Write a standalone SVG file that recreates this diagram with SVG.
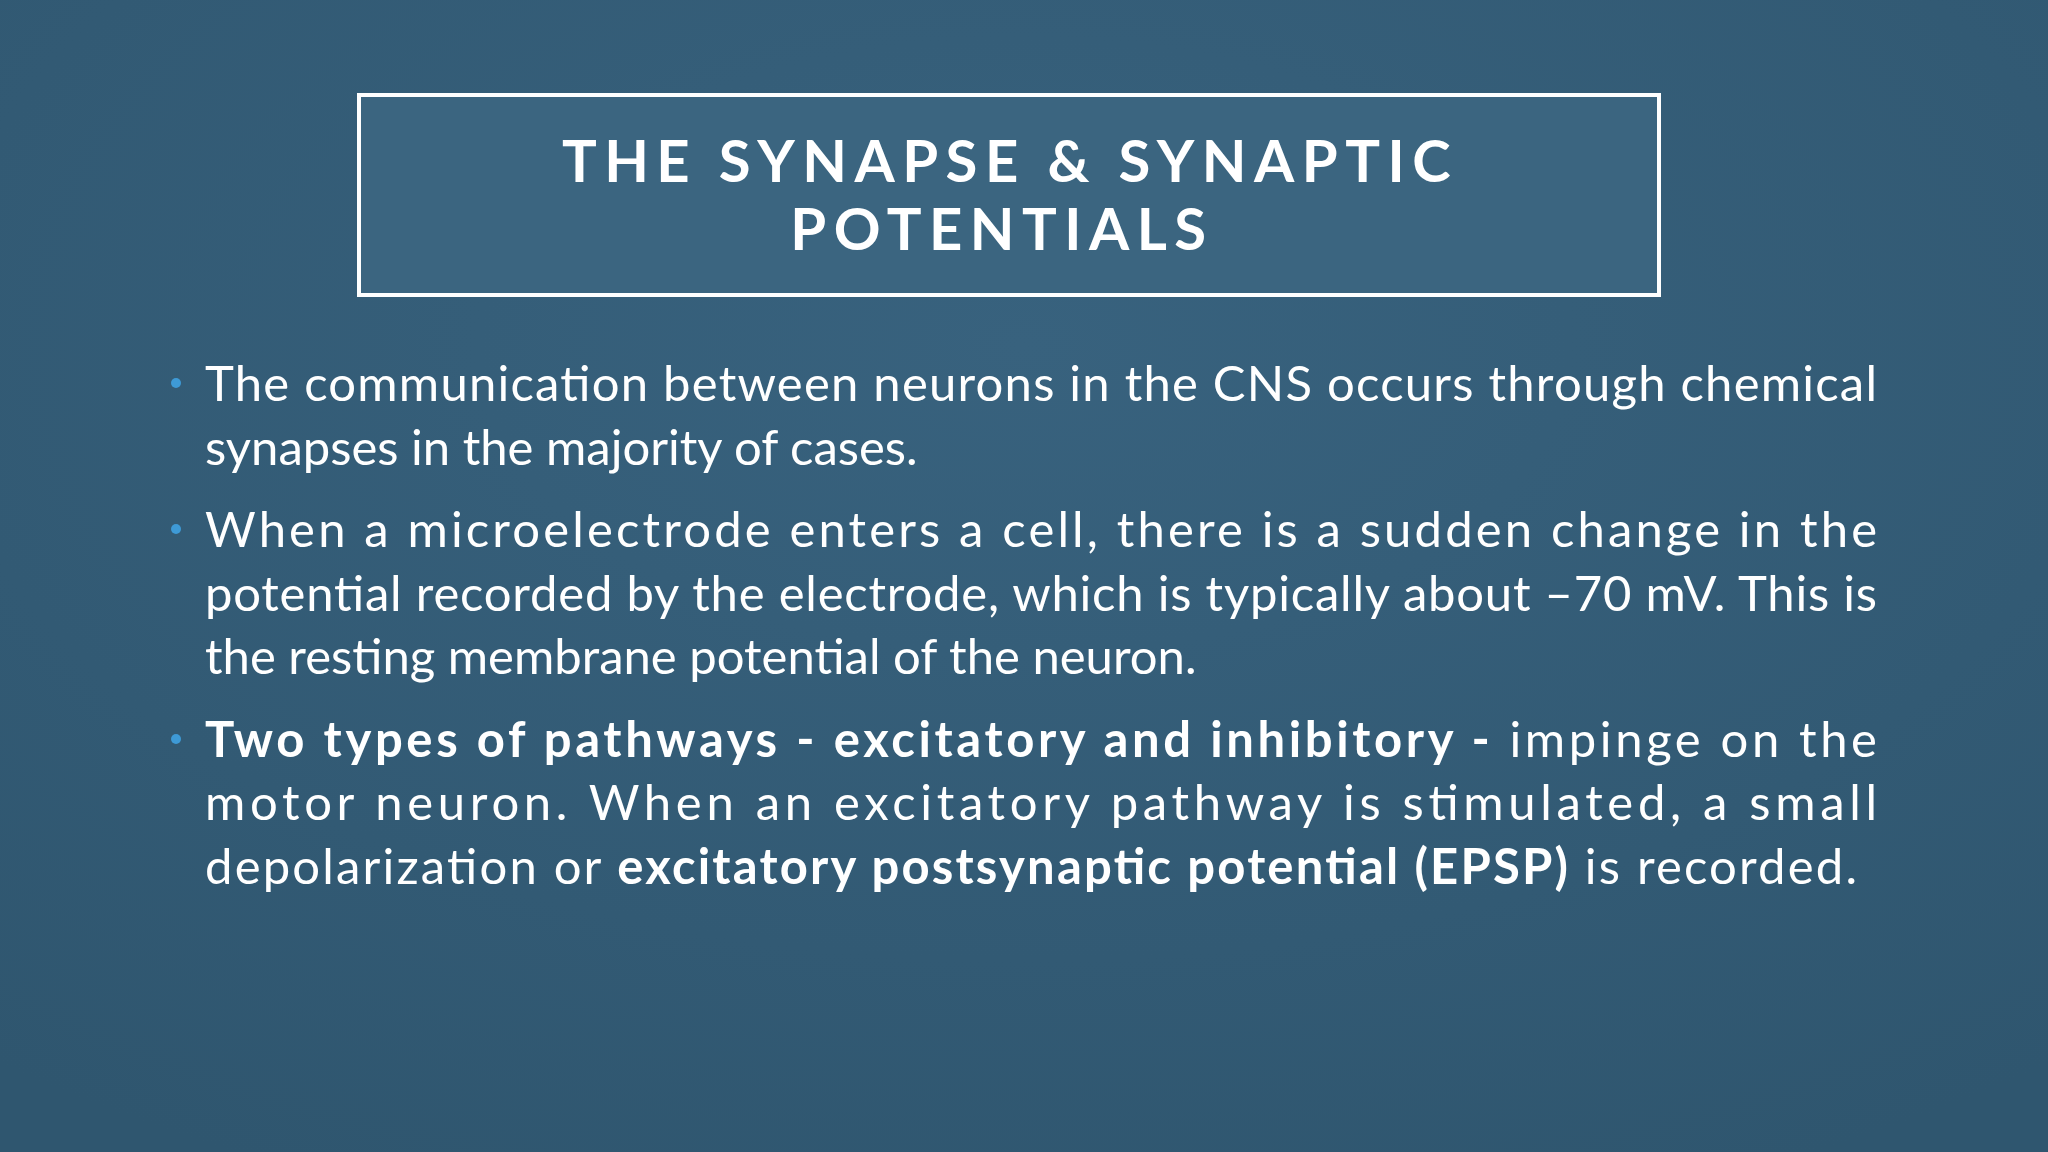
<svg xmlns="http://www.w3.org/2000/svg" width="2048" height="1152" viewBox="0 0 2048 1152">
<defs>
<radialGradient id="bg" cx="0.5" cy="0.3" r="0.8"><stop offset="0" stop-color="#38627e"/><stop offset="1" stop-color="#2f566f"/></radialGradient>
<style>
.t{font-family:Lato,"Open Sans",sans-serif;font-weight:bold;font-size:58px;fill:#fff;letter-spacing:7.5px}
.b{font-family:Lato,"Open Sans",sans-serif;font-size:49px;fill:#fff}
.bd{font-weight:bold}
.dot{fill:#3e9ad6}
</style>
</defs>
<rect width="2048" height="1152" fill="url(#bg)"/>
<g id="title">
<rect x="359" y="95" width="1300" height="200" fill="#3b6580" stroke="#fff" stroke-width="4"/>
<text class="t" x="1010" y="182" text-anchor="middle">THE SYNAPSE &amp; SYNAPTIC</text>
<text class="t" x="1002" y="250" text-anchor="middle">POTENTIALS</text>
</g>
<g id="bullets">
<circle class="dot" cx="176" cy="383" r="5"/>
<circle class="dot" cx="176" cy="529" r="5"/>
<circle class="dot" cx="176" cy="739" r="5"/>
<text class="b" x="205" y="401" textLength="1672" lengthAdjust="spacing">The communication between neurons in the CNS occurs through chemical</text>
<text class="b" x="205" y="465">synapses in the majority of cases.</text>
<text class="b" x="205" y="547" textLength="1672" lengthAdjust="spacing">When a microelectrode enters a cell, there is a sudden change in the</text>
<text class="b" x="205" y="611" textLength="1672" lengthAdjust="spacing">potential recorded by the electrode, which is typically about –70 mV. This is</text>
<text class="b" x="205" y="674">the resting membrane potential of the neuron.</text>
<text class="b" x="205" y="757" textLength="1672" lengthAdjust="spacing"><tspan class="bd">Two types of pathways - excitatory and inhibitory -</tspan> impinge on the</text>
<text class="b" x="205" y="820" textLength="1672" lengthAdjust="spacing">motor neuron. When an excitatory pathway is stimulated, a small</text>
<text class="b" x="205" y="884" textLength="1652" lengthAdjust="spacing">depolarization or <tspan class="bd">excitatory postsynaptic potential (EPSP)</tspan> is recorded.</text>
</g>
</svg>
